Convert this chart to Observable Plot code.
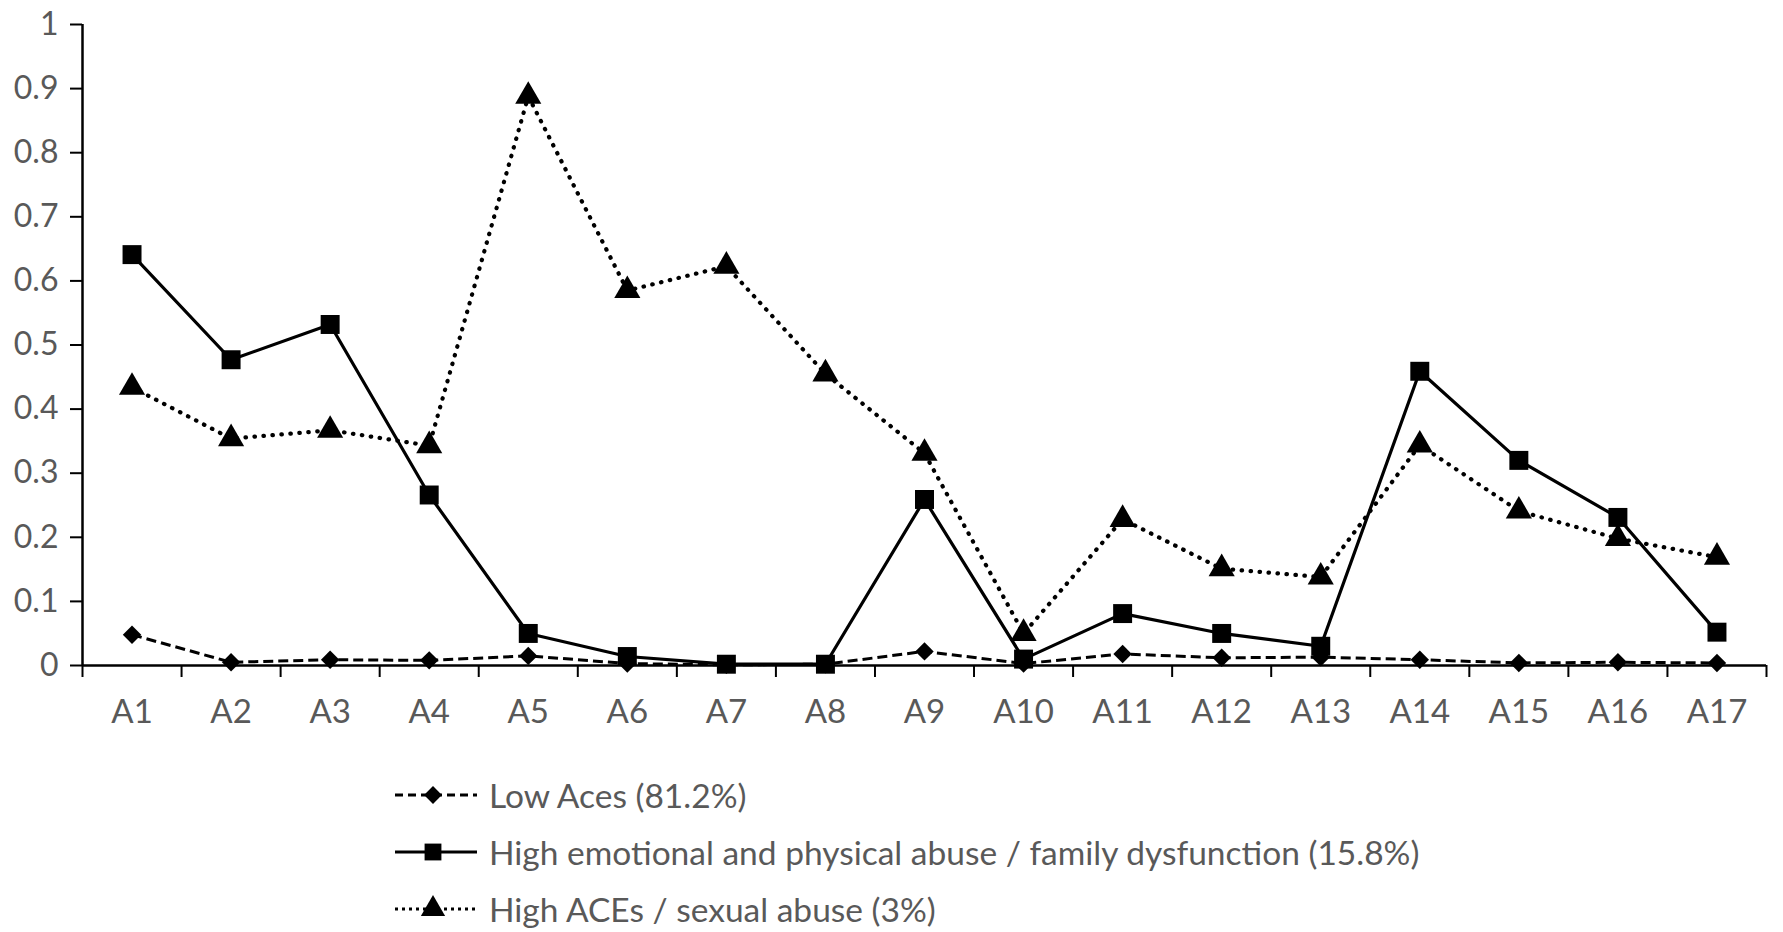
<!DOCTYPE html>
<html>
<head>
<meta charset="utf-8">
<script src="https://cdn.jsdelivr.net/npm/d3@7"></script>
<script src="https://cdn.jsdelivr.net/npm/@observablehq/plot@0.6"></script>
<style>
  html, body { margin: 0; padding: 0; background: #fff; }
  #wrap { width: 1783px; height: 932px; position: relative; font-family: Lato, "Open Sans", sans-serif; }
  #legend { position: absolute; left: 395px; top: 766px; }
  .row { display: flex; align-items: center; height: 57px; font-size: 33.5px; color: #595959; }
  .row svg { margin-right: 12px; }
</style>
</head>
<body>
<div id="wrap">
  <div id="chart"></div>
  <div id="legend"></div>
</div>
<script>
const categories = ["A1","A2","A3","A4","A5","A6","A7","A8","A9","A10","A11","A12","A13","A14","A15","A16","A17"];
const lowAces   = [0.048, 0.005, 0.009, 0.008, 0.015, 0.003, 0.001, 0.002, 0.022, 0.003, 0.018, 0.012, 0.013, 0.009, 0.004, 0.005, 0.004];
const highEmo   = [0.641, 0.477, 0.532, 0.266, 0.050, 0.014, 0.002, 0.002, 0.259, 0.010, 0.081, 0.050, 0.030, 0.459, 0.320, 0.231, 0.052];
const highAces  = [0.434, 0.354, 0.367, 0.343, 0.888, 0.585, 0.623, 0.455, 0.331, 0.050, 0.228, 0.151, 0.138, 0.344, 0.241, 0.198, 0.169];
const seriesNames = ["Low Aces (81.2%)", "High emotional and physical abuse / family dysfunction (15.8%)", "High ACEs / sexual abuse (3%)"];
const yTicks = [0, 0.1, 0.2, 0.3, 0.4, 0.5, 0.6, 0.7, 0.8, 0.9, 1];

const seriesValues = [lowAces, highEmo, highAces];
const rows = seriesValues.flatMap((vals, s) => vals.map((v, i) => ({series: s, cat: categories[i], idx: i, value: v})));
const centers = categories.map((c, i) => i + 0.5);
const bounds = d3.range(categories.length + 1);

const styles = [
  {dash: "10,5", width: 3, cap: "butt", symbol: "diamond2", r: 8.3},
  {dash: null, width: 3.2, cap: "butt", symbol: "square", r: 10.7},
  {dash: "0.5,8.5", width: 4.2, cap: "round", symbol: "triangle", r: 9.7}
];

const marks = [
  Plot.axisY({ticks: yTicks, label: null, tickSize: 12, tickPadding: 12, tickFormat: d => String(d), fill: "#595959", stroke: "black", strokeWidth: 2, fontSize: 32}),
  Plot.axisX({ticks: bounds, label: null, tickSize: 12, tickFormat: () => "", stroke: "black", strokeWidth: 2}),
  Plot.axisX({ticks: centers, label: null, tickSize: 0, tickPadding: 34, tickFormat: d => categories[Math.floor(d)], fill: "#595959", fontSize: 33}),
  Plot.ruleX([0], {y1: 0, y2: 1, stroke: "black", strokeWidth: 2.5}),
  Plot.ruleY([0], {stroke: "black", strokeWidth: 2.5})
];
styles.forEach((st, s) => {
  const d = rows.filter(r => r.series === s);
  marks.push(Plot.line(d, {x: r => r.idx + 0.5, y: "value", stroke: "black", strokeWidth: st.width, strokeLinecap: st.cap, strokeDasharray: st.dash || undefined}));
});
styles.forEach((st, s) => {
  const d = rows.filter(r => r.series === s);
  marks.push(Plot.dot(d, {x: r => r.idx + 0.5, y: "value", symbol: () => st.symbol, r: st.r, fill: "black", stroke: "none"}));
});

const chart = Plot.plot({
  width: 1783,
  height: 760,
  marginLeft: 82,
  marginRight: 17,
  marginTop: 24,
  marginBottom: 95,
  style: {fontFamily: "Lato, 'Open Sans', sans-serif", background: "white"},
  x: {type: "linear", domain: [0, categories.length], axis: null},
  y: {domain: [0, 1], axis: null},
  symbol: {type: "identity"},
  marks
});
document.getElementById("chart").appendChild(chart);

// Legend
const legend = document.getElementById("legend");
const sym = {
  diamond2: d3.symbol(d3.symbolDiamond2, Math.PI * 8 * 8)(),
  square: d3.symbol(d3.symbolSquare, Math.PI * 9.5 * 9.5)(),
  triangle: d3.symbol(d3.symbolTriangle, Math.PI * 9 * 9)()
};
seriesNames.forEach((name, s) => {
  const st = styles[s];
  const row = document.createElement("div");
  row.className = "row";
  const ns = "http://www.w3.org/2000/svg";
  const svg = document.createElementNS(ns, "svg");
  svg.setAttribute("width", 82); svg.setAttribute("height", 30);
  const line = document.createElementNS(ns, "line");
  line.setAttribute("x1", 0); line.setAttribute("x2", 82);
  line.setAttribute("y1", 15); line.setAttribute("y2", 15);
  line.setAttribute("stroke", "black"); line.setAttribute("stroke-width", 3);
  if (st.dash) line.setAttribute("stroke-dasharray", s === 0 ? "8,5" : "3,4");
  svg.appendChild(line);
  const p = document.createElementNS(ns, "path");
  p.setAttribute("d", sym[st.symbol]);
  p.setAttribute("transform", "translate(38,15)");
  p.setAttribute("fill", "black");
  svg.appendChild(p);
  row.appendChild(svg);
  const span = document.createElement("span");
  span.textContent = name;
  row.appendChild(span);
  legend.appendChild(row);
});
</script>
</body>
</html>
